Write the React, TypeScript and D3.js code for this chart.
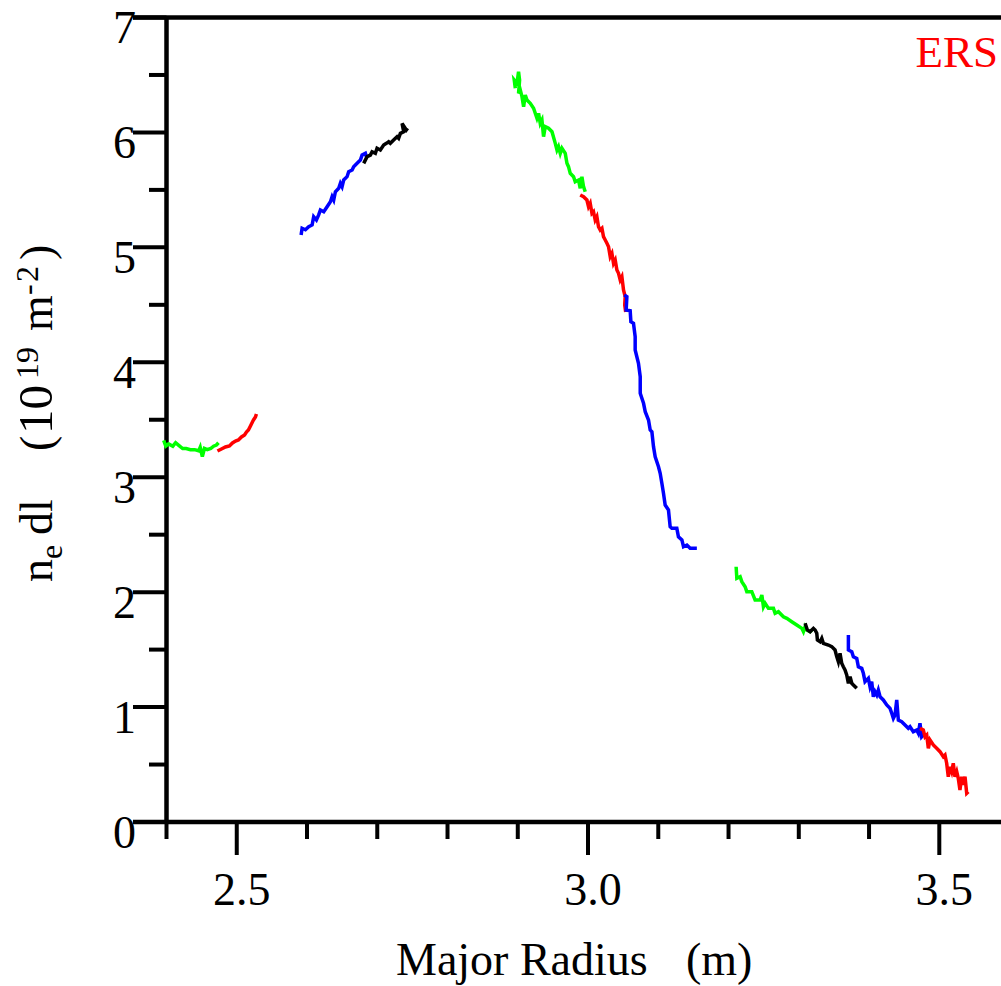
import React from "react";
import * as d3 from "d3";

// ---------- data (Major Radius R in m, n_e dl in 1e19 m^-2) ----------
const green1R = [2.396, 2.399, 2.403, 2.409, 2.413, 2.417, 2.423, 2.428, 2.434, 2.440, 2.446, 2.448, 2.451, 2.454, 2.458, 2.463, 2.467, 2.471, 2.474];
const green1N = [3.32, 3.27, 3.29, 3.27, 3.30, 3.28, 3.25, 3.25, 3.24, 3.24, 3.23, 3.26, 3.18, 3.25, 3.24, 3.25, 3.27, 3.28, 3.30];

const red1R = [2.4725, 2.4782, 2.4839, 2.4896, 2.4939, 2.4982, 2.5024, 2.5067, 2.5111, 2.5138, 2.5166, 2.5195, 2.5223, 2.5238, 2.5266, 2.528];
const red1N = [3.228, 3.246, 3.263, 3.272, 3.298, 3.315, 3.324, 3.35, 3.367, 3.393, 3.411, 3.446, 3.481, 3.498, 3.524, 3.55];

const blue1R = [2.5916, 2.5930, 2.5977, 2.6024, 2.6073, 2.6095, 2.6134, 2.6166, 2.6191, 2.6238, 2.6286, 2.6333, 2.6357, 2.6380, 2.6404, 2.6451, 2.6475, 2.6499, 2.6522, 2.6570, 2.6593, 2.6642, 2.6664, 2.6713, 2.6760, 2.6784, 2.6831, 2.6845];
const blue1N = [5.107, 5.166, 5.153, 5.180, 5.195, 5.267, 5.238, 5.282, 5.325, 5.310, 5.354, 5.397, 5.441, 5.412, 5.484, 5.514, 5.557, 5.528, 5.586, 5.615, 5.658, 5.673, 5.702, 5.731, 5.760, 5.803, 5.818, 5.789];

const black1R = [2.6807, 2.6855, 2.6902, 2.6926, 2.6973, 2.6997, 2.7044, 2.7091, 2.7130, 2.7162, 2.7186, 2.7233, 2.7282, 2.7304, 2.7329, 2.7376, 2.7353, 2.7414, 2.7432];
const black1N = [5.731, 5.789, 5.803, 5.832, 5.818, 5.862, 5.847, 5.890, 5.905, 5.919, 5.905, 5.934, 5.963, 5.949, 5.992, 6.006, 6.079, 6.021, 6.036];

const green2R = [2.8965, 2.8950, 2.8989, 2.9011, 2.9026, 2.9011, 2.9036, 2.9060, 2.9083, 2.9107, 2.9131, 2.9178, 2.9225, 2.9273, 2.9296, 2.9320, 2.9344, 2.9367, 2.9391, 2.9438, 2.9487, 2.9534, 2.9558, 2.9580, 2.9605, 2.9629, 2.9676, 2.9700, 2.9722, 2.9747, 2.9794, 2.9818, 2.9865, 2.9889, 2.9913, 2.9936, 2.9960];
const green2N = [6.384, 6.456, 6.427, 6.528, 6.456, 6.340, 6.369, 6.311, 6.224, 6.325, 6.282, 6.253, 6.210, 6.123, 6.166, 6.079, 6.108, 5.963, 6.050, 6.036, 6.006, 5.905, 5.847, 5.876, 5.818, 5.862, 5.818, 5.731, 5.702, 5.644, 5.615, 5.571, 5.586, 5.514, 5.615, 5.528, 5.484];

const red2R = [2.9889, 2.9936, 2.9984, 3.0007, 3.0031, 3.0056, 3.0078, 3.0102, 3.0126, 3.0149, 3.0174, 3.0198, 3.0220, 3.0245, 3.0269, 3.0292, 3.0316, 3.0340, 3.0363, 3.0387, 3.0411, 3.0434, 3.0458, 3.0482, 3.0505, 3.0529, 3.0522, 3.0536];
const red2N = [5.456, 5.441, 5.412, 5.354, 5.383, 5.296, 5.310, 5.238, 5.267, 5.180, 5.151, 5.166, 5.093, 5.064, 5.035, 5.006, 4.919, 4.948, 4.861, 4.890, 4.803, 4.774, 4.716, 4.745, 4.629, 4.571, 4.499, 4.438];

const blue2R = [3.0515, 3.0553, 3.0543, 3.0600, 3.0610, 3.0647, 3.0671, 3.0671, 3.0718, 3.0743, 3.0743, 3.0790, 3.0814, 3.0861, 3.0885, 3.0909, 3.0932, 3.0956, 3.1003, 3.1027, 3.1051, 3.1074, 3.1098, 3.1145, 3.1169, 3.1193, 3.1264, 3.1287, 3.1336, 3.1359, 3.1407, 3.1454, 3.1549];
const blue2N = [4.585, 4.571, 4.455, 4.449, 4.353, 4.339, 4.223, 4.107, 3.991, 3.875, 3.730, 3.643, 3.570, 3.498, 3.411, 3.396, 3.266, 3.178, 3.091, 3.034, 2.947, 2.860, 2.758, 2.715, 2.569, 2.555, 2.555, 2.482, 2.454, 2.395, 2.410, 2.381, 2.381];

const green3R = [3.2108, 3.2118, 3.2165, 3.2189, 3.2236, 3.2260, 3.2331, 3.2378, 3.2450, 3.2474, 3.2497, 3.2521, 3.2568, 3.2639, 3.2663, 3.2710, 3.2781, 3.2829, 3.2900, 3.2971, 3.3043, 3.3066, 3.3090, 3.3114, 3.3161, 3.3185];
const green3N = [2.221, 2.120, 2.134, 2.091, 2.047, 2.004, 2.004, 1.932, 1.932, 1.975, 1.873, 1.903, 1.859, 1.859, 1.816, 1.830, 1.786, 1.772, 1.743, 1.714, 1.685, 1.656, 1.699, 1.671, 1.656, 1.671];

const black2R = [3.3090, 3.3122, 3.3161, 3.3208, 3.3232, 3.3256, 3.3265, 3.3303, 3.3327, 3.3350, 3.3421, 3.3469, 3.3516, 3.3540, 3.3563, 3.3587, 3.3611, 3.3634, 3.3658, 3.3682, 3.3706, 3.3730, 3.3754, 3.3777, 3.3825];
const black2N = [1.729, 1.671, 1.656, 1.685, 1.671, 1.642, 1.584, 1.569, 1.598, 1.555, 1.540, 1.526, 1.497, 1.439, 1.395, 1.468, 1.381, 1.351, 1.323, 1.279, 1.207, 1.264, 1.207, 1.192, 1.163];

const blue3R = [3.3706, 3.3706, 3.3754, 3.3777, 3.3825, 3.3848, 3.3896, 3.3919, 3.3943, 3.3990, 3.4014, 3.4038, 3.4061, 3.4085, 3.4110, 3.4132, 3.4157, 3.4203, 3.4252, 3.4299, 3.4323, 3.4346, 3.4370, 3.4394, 3.4417, 3.4465, 3.4512, 3.4559, 3.4583, 3.4630, 3.4678, 3.4701, 3.4725, 3.4749, 3.4772];
const blue3N = [1.627, 1.497, 1.482, 1.438, 1.424, 1.351, 1.337, 1.294, 1.221, 1.250, 1.177, 1.221, 1.090, 1.134, 1.105, 1.148, 1.090, 1.062, 1.018, 0.989, 0.946, 0.902, 0.931, 1.062, 0.887, 0.873, 0.844, 0.815, 0.829, 0.786, 0.800, 0.772, 0.859, 0.742, 0.757];

const red3R = [3.4725, 3.4772, 3.4797, 3.4821, 3.4844, 3.4868, 3.4915, 3.4963, 3.5010, 3.5057, 3.5081, 3.5105, 3.5128, 3.5152, 3.5176, 3.5199, 3.5223, 3.5248, 3.5270, 3.5294, 3.5319, 3.5341, 3.5366, 3.5390, 3.5413];
const red3N = [0.815, 0.800, 0.742, 0.757, 0.641, 0.713, 0.670, 0.641, 0.612, 0.568, 0.583, 0.511, 0.394, 0.481, 0.438, 0.511, 0.394, 0.438, 0.380, 0.278, 0.394, 0.322, 0.394, 0.250, 0.264];

const xMajorTicks = [2.5, 3.0, 3.5];
const xMinorTicks = [2.4, 2.6, 2.7, 2.8, 2.9, 3.1, 3.2, 3.3, 3.4];
const xTickLabels = ["2.5", "3.0", "3.5"];
const yMajorTicks = [0, 1, 2, 3, 4, 5, 6, 7];
const yMinorTicks = [0.5, 1.5, 2.5, 3.5, 4.5, 5.5, 6.5];

const segments = [
  { r: green1R, n: green1N, color: "#00ff00" },
  { r: red1R, n: red1N, color: "#ff0000" },
  { r: blue1R, n: blue1N, color: "#0000ff" },
  { r: black1R, n: black1N, color: "#000000" },
  { r: green2R, n: green2N, color: "#00ff00" },
  { r: red2R, n: red2N, color: "#ff0000" },
  { r: blue2R, n: blue2N, color: "#0000ff" },
  { r: green3R, n: green3N, color: "#00ff00" },
  { r: black2R, n: black2N, color: "#000000" },
  { r: blue3R, n: blue3N, color: "#0000ff" },
  { r: red3R, n: red3N, color: "#ff0000" },
];

const FONT = "'Liberation Serif', 'Times New Roman', serif";

export default function App() {
  const W = 1001;
  const H = 986;
  const x = d3.scaleLinear().domain([2.4, 3.5]).range([166.5, 939.3]);
  const y = d3.scaleLinear().domain([0, 7]).range([822, 17.5]);
  const line = d3
    .line<[number, number]>()
    .x((d) => x(d[0]))
    .y((d) => y(d[1]));

  const axisW = 4.5;
  const tickW = 4;

  return (
    <svg
      width={W}
      height={H}
      style={{ position: "absolute", left: 0, top: 0, display: "block", background: "#fff" }}
      fontFamily={FONT}
    >
      {/* frame lines */}
      <line x1={133} x2={W} y1={y(7)} y2={y(7)} stroke="#000" strokeWidth={axisW} />
      <line x1={133} x2={W} y1={y(0)} y2={y(0)} stroke="#000" strokeWidth={axisW} />
      <line x1={x(2.4)} x2={x(2.4)} y1={y(7)} y2={y(0)} stroke="#000" strokeWidth={axisW} />

      {/* y ticks */}
      {yMajorTicks.map((v) => (
        <line key={"ym" + v} x1={133} x2={x(2.4)} y1={y(v)} y2={y(v)} stroke="#000" strokeWidth={tickW} />
      ))}
      {yMinorTicks.map((v) => (
        <line key={"yn" + v} x1={149} x2={x(2.4)} y1={y(v)} y2={y(v)} stroke="#000" strokeWidth={tickW} />
      ))}
      {yMajorTicks.map((v) => (
        <text key={"yl" + v} x={136} y={y(v) + 25.5} fontSize={46} textAnchor="end" fill="#000">
          {String(v)}
        </text>
      ))}

      {/* x ticks */}
      {xMajorTicks.map((v) => (
        <line key={"xm" + v} x1={x(v)} x2={x(v)} y1={y(0)} y2={855} stroke="#000" strokeWidth={tickW} />
      ))}
      {xMinorTicks.map((v) => (
        <line key={"xn" + v} x1={x(v)} x2={x(v)} y1={y(0)} y2={839} stroke="#000" strokeWidth={tickW} />
      ))}
      {xMajorTicks.map((v, i) => (
        <text key={"xl" + v} x={x(v) + 5} y={905} fontSize={46} textAnchor="middle" fill="#000">
          {xTickLabels[i]}
        </text>
      ))}

      {/* x title */}
      <text y={975} fontSize={46} fill="#000">
        <tspan x={396}>Major Radius</tspan>
        <tspan x={686}>(m)</tspan>
      </text>

      {/* y title */}
      <g transform="translate(52,582) rotate(-90)">
        <text fontSize={46} fill="#000">
          <tspan x={0} y={0}>n</tspan>
          <tspan x={23} y={10} fontSize={32}>e</tspan>
          <tspan x={47} y={0}>dl</tspan>
          <tspan x={131} y={0}>(</tspan>
          <tspan x={148} y={0} fontSize={49}>10</tspan>
          <tspan x={203} y={-14} fontSize={32}>19</tspan>
          <tspan x={251} y={0}>m</tspan>
          <tspan x={287} y={-14} fontSize={32}>-</tspan>
          <tspan x={300} y={-14} fontSize={32}>2</tspan>
          <tspan x={322} y={0}>)</tspan>
        </text>
      </g>

      {/* ERS label */}
      <text x={998} y={67} fontSize={45} textAnchor="end" fill="#ff0000">
        ERS
      </text>

      {/* data */}
      {segments.map((s, i) => (
        <path
          key={"s" + i}
          d={line(s.r.map((r, j) => [r, s.n[j]] as [number, number])) || ""}
          fill="none"
          stroke={s.color}
          strokeWidth={3.5}
          strokeLinejoin="miter"
        />
      ))}
    </svg>
  );
}
